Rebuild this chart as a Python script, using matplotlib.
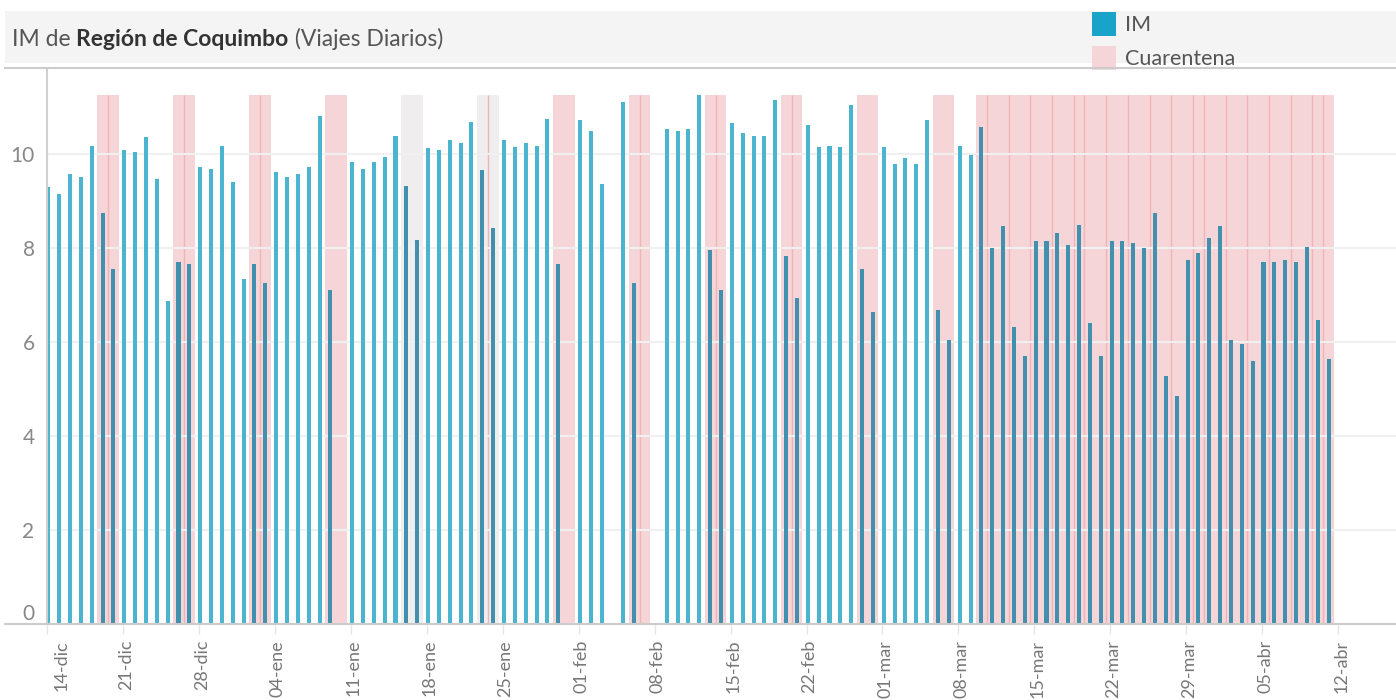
import matplotlib.pyplot as plt
import matplotlib.patches as mpatches
import matplotlib.lines as mlines
import matplotlib.transforms as mtransforms
import numpy as np
import pandas as pd

plt.rcParams['font.family'] = ['Lato', 'DejaVu Sans']

# IM diario (viajes) desde el 14-dic-2020, None = sin dato
inicio = pd.Timestamp("2020-12-14")
im = [9.30, 9.15, 9.57, 9.51, 10.18, 8.75, 7.56, 10.08, 10.04, 10.37,
      9.46, 6.87, 7.71, 7.65, 9.72, 9.68, 10.18, 9.40, 7.35, 7.65,
      7.25, 9.61, 9.51, 9.57, 9.72, 10.80, 7.10, None, 9.82, 9.68,
      9.82, 9.93, 10.39, 9.32, 8.18, 10.12, 10.08, 10.29, 10.23, 10.69,
      9.65, 8.43, 10.29, 10.14, 10.23, 10.18, 10.75, 7.65, None, 10.73,
      10.50, 9.36, None, 11.11, 7.25, None, None, 10.54, 10.50, 10.54,
      11.26, 7.96, 7.10, 10.65, 10.44, 10.39, 10.39, 11.15, 7.82, 6.93,
      10.61, 10.14, 10.18, 10.14, 11.05, 7.56, 6.63, 10.14, 9.78, 9.91,
      9.78, 10.73, 6.68, 6.04, 10.18, 9.97, 10.58, 8.01, 8.47, 6.32,
      5.70, 8.15, 8.15, 8.32, 8.07, 8.49, 6.40, 5.70, 8.15, 8.15,
      8.11, 8.01, 8.75, 5.28, 4.86, 7.75, 7.90, 8.22, 8.47, 6.04,
      5.96, 5.60, 7.71, 7.71, 7.75, 7.71, 8.03, 6.46, 5.64]

cuarentena_fds = ["2020-12-19", "2020-12-20", "2020-12-26", "2020-12-27",
                  "2021-01-02", "2021-01-03", "2021-01-09", "2021-01-10",
                  "2021-01-30", "2021-01-31", "2021-02-06", "2021-02-07",
                  "2021-02-13", "2021-02-14", "2021-02-20", "2021-02-21",
                  "2021-02-27", "2021-02-28", "2021-03-06", "2021-03-07"]
cuarentena_desde = "2021-03-10"
cuarentena_hasta = "2021-04-11"
otra_fase = ["2021-01-16", "2021-01-17", "2021-01-23", "2021-01-24"]
cortes = ["2020-12-19", "2020-12-26", "2021-01-02", "2021-01-23", "2021-02-06",
          "2021-02-13", "2021-02-20", "2021-03-10", "2021-03-12", "2021-03-14",
          "2021-03-16", "2021-03-18", "2021-03-19", "2021-03-21", "2021-03-23",
          "2021-03-25", "2021-03-27", "2021-03-29", "2021-03-30", "2021-04-01",
          "2021-04-03", "2021-04-05", "2021-04-07", "2021-04-09", "2021-04-10"]

etiquetas_x = ["14-dic", "21-dic", "28-dic", "04-ene", "11-ene", "18-ene",
               "25-ene", "01-feb", "08-feb", "15-feb", "22-feb", "01-mar",
               "08-mar", "15-mar", "22-mar", "29-mar", "05-abr", "12-abr"]
valores_y = [0, 2, 4, 6, 8, 10]


def dia(fecha):
    return (pd.Timestamp(fecha) - inicio).days


def tramos(dias):
    # agrupa dias consecutivos en (inicio, largo)
    dias = sorted(dias)
    out = []
    for d in dias:
        if out and d == out[-1][0] + out[-1][1]:
            out[-1][1] += 1
        else:
            out.append([d, 1])
    return out


W, H = 1396, 700
fig = plt.figure(figsize=(W / 100, H / 100), dpi=100)
ax = fig.add_axes([47 / W, 1 - 624 / H, 1 - 47 / W, (624 - 68) / H])

off = 0.12
x = np.arange(len(im))
vals = np.array([np.nan if v is None else v for v in im])
tope = np.nanmax(vals)

dias_cuar = [dia(f) for f in cuarentena_fds] + list(range(dia(cuarentena_desde), dia(cuarentena_hasta) + 1))
dias_gris = [dia(f) for f in otra_fase]

for d0, n in tramos(dias_cuar):
    ax.bar(d0 + off - 0.5, tope, width=n, align='edge', color='#f6d5d8', lw=0, zorder=0.5)
for d0, n in tramos(dias_gris):
    ax.bar(d0 + off - 0.5, tope, width=n, align='edge', color='#efeded', lw=0, zorder=0.5)
ax.vlines([dia(f) + off + 0.5 for f in cortes], 0, tope, color='#f0b4b7', lw=1, zorder=0.6)

marcado = np.isin(x, dias_cuar + dias_gris)
ok = ~np.isnan(vals)
ax.bar(x[ok & ~marcado] + off, vals[ok & ~marcado], width=0.37, color='#4bb5d0', lw=0, zorder=2)
ax.bar(x[ok & marcado] + off, vals[ok & marcado], width=0.37, color='#4190ad', lw=0, zorder=2)

ax.set_xlim(0, (W - 47) / 10.85)
ax.set_ylim(0, (624 - 68) / 47)
ax.set_xticks(np.arange(len(etiquetas_x)) * 7)
ax.set_xticklabels(etiquetas_x, rotation=90, va='top', ha='center')
ax.set_yticks(valores_y)
ax.set_yticklabels([str(v) for v in valores_y])
ax.tick_params(axis='x', length=7, color='#e6e6e6', width=1, labelsize=13, labelcolor='#777777', pad=4.5)
ax.tick_params(axis='y', length=0, labelsize=15, labelcolor='#888888', pad=9)
for lbl in ax.get_yticklabels():
    if lbl.get_text() == '0':
        lbl.set_va('bottom')
# etiquetas x un poco a la derecha del tick (la primera mas, como en Tableau)
for i, lbl in enumerate(ax.get_xticklabels()):
    dx = 15 if i == 0 else 3
    lbl.set_transform(lbl.get_transform() + mtransforms.ScaledTranslation(dx / 100, 0, fig.dpi_scale_trans))

ax.yaxis.grid(True, color='#f0f0f0', lw=1.5)
ax.set_axisbelow('line')
for s in ['top', 'right', 'bottom']:
    ax.spines[s].set_visible(False)
ax.spines['left'].set_color('#d0d0d0')
ax.spines['left'].set_linewidth(1.5)

# barra de titulo y lineas
fig.add_artist(mpatches.Rectangle((5 / W, 1 - 63 / H), 1, 52 / H, color='#f4f4f4', lw=0, zorder=0))
for yy in [68, 624]:
    fig.add_artist(mlines.Line2D([5 / W, 1], [1 - yy / H] * 2, color='#cccccc', lw=1.5))

fig.canvas.draw()
r = fig.canvas.get_renderer()
ty = 1 - 39 / H
xx = 12 / W
for txt, wt, col in [("IM de ", 'normal', '#555555'), ("Región de Coquimbo", 'bold', '#333333'),
                     (" (Viajes Diarios)", 'normal', '#555555')]:
    t = fig.text(xx, ty, txt, fontsize=16.5, weight=wt, color=col, va='center', ha='left')
    bb = t.get_window_extent(r)
    xx = bb.x1 / W

# leyenda
fig.add_artist(mpatches.Rectangle((1092 / W, 1 - 36 / H), 24 / W, 24 / H, color='#1aa3c8', lw=0))
fig.add_artist(mpatches.Rectangle((1092 / W, 1 - 70 / H), 24 / W, 24 / H, color='#f6d5d8', lw=0))
fig.text(1125 / W, 1 - 25 / H, "IM", fontsize=15.5, color='#555555', va='center')
fig.text(1125 / W, 1 - 59 / H, "Cuarentena", fontsize=15.5, color='#555555', va='center')

fig.savefig('out.png', dpi=100)
